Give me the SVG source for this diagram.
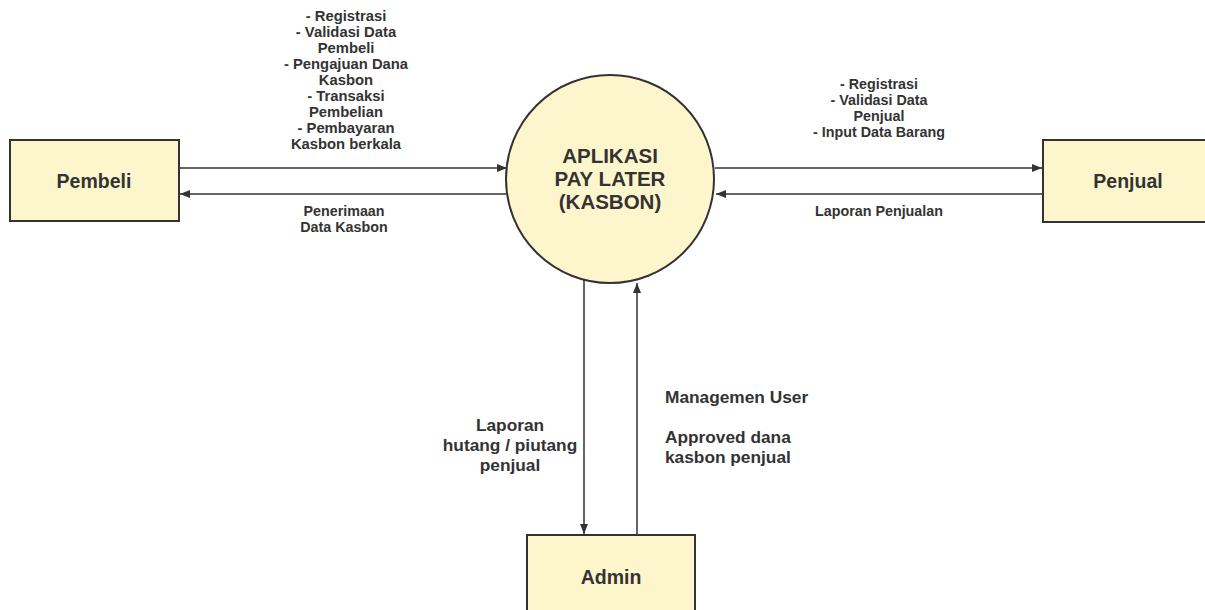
<svg xmlns="http://www.w3.org/2000/svg" width="1205" height="610" viewBox="0 0 1205 610">
<style>
.box{fill:#fdf6cc;stroke:#333;stroke-width:2}
.lbl{font-family:"Liberation Sans",Arial,sans-serif;font-weight:bold;fill:#333;text-anchor:middle}
.s{font-size:14.3px}
.t{font-size:14.8px}
.m{font-size:17.3px}
.n{font-size:19.5px}
.c{font-size:20.5px}
.ln{stroke:#333;stroke-width:1.5;fill:none}
</style>
<defs>
<marker id="ah" viewBox="0 0 10 10" refX="10" refY="5" markerWidth="10" markerHeight="10" markerUnits="userSpaceOnUse" orient="auto">
<path d="M0,1 L10,5 L0,9 z" fill="#333"/>
</marker>
</defs>
<rect width="1205" height="610" fill="#fff"/>
<g id="connectors">
<line class="ln" x1="179" y1="168" x2="507" y2="168" marker-end="url(#ah)"/>
<line class="ln" x1="506" y1="194" x2="180" y2="194" marker-end="url(#ah)"/>
<line class="ln" x1="715" y1="168" x2="1042" y2="168" marker-end="url(#ah)"/>
<line class="ln" x1="1043" y1="194" x2="716" y2="194" marker-end="url(#ah)"/>
<line class="ln" x1="584" y1="272" x2="584" y2="534" marker-end="url(#ah)"/>
<line class="ln" x1="637" y1="535" x2="637" y2="283" marker-end="url(#ah)"/>
<text class="lbl t"><tspan x="346" y="21">- Registrasi</tspan><tspan x="346" y="37">- Validasi Data</tspan><tspan x="346" y="53">Pembeli</tspan><tspan x="346" y="69">- Pengajuan Dana</tspan><tspan x="346" y="85">Kasbon</tspan><tspan x="346" y="101">- Transaksi</tspan><tspan x="346" y="117">Pembelian</tspan><tspan x="346" y="133">- Pembayaran</tspan><tspan x="346" y="149">Kasbon berkala</tspan></text>
<text class="lbl s"><tspan x="344" y="216">Penerimaan</tspan><tspan x="344" y="232">Data Kasbon</tspan></text>
<text class="lbl s"><tspan x="879" y="89">- Registrasi</tspan><tspan x="879" y="105">- Validasi Data</tspan><tspan x="879" y="121">Penjual</tspan><tspan x="879" y="137">- Input Data Barang</tspan></text>
<text class="lbl s" x="879" y="216">Laporan Penjualan</text>
<text class="lbl m"><tspan x="510" y="431">Laporan</tspan><tspan x="510" y="451">hutang / piutang</tspan><tspan x="510" y="471">penjual</tspan></text>
<text class="lbl m" style="text-anchor:start"><tspan x="665" y="403">Managemen User</tspan><tspan x="665" y="443">Approved dana</tspan><tspan x="665" y="463">kasbon penjual</tspan></text>
</g>
<g id="pembeli">
<rect class="box" x="10" y="140" width="169" height="81"/>
<text class="lbl n" x="94" y="188">Pembeli</text>
</g>
<g id="aplikasi">
<circle class="box" cx="610" cy="179" r="104"/>
<text class="lbl c"><tspan x="610" y="163">APLIKASI</tspan><tspan x="610" y="186">PAY LATER</tspan><tspan x="610" y="209">(KASBON)</tspan></text>
</g>
<g id="penjual">
<rect class="box" x="1043" y="140" width="170" height="82"/>
<text class="lbl n" x="1128" y="188">Penjual</text>
</g>
<g id="admin">
<rect class="box" x="527" y="535" width="168" height="85"/>
<text class="lbl n" x="611" y="584">Admin</text>
</g>
</svg>
